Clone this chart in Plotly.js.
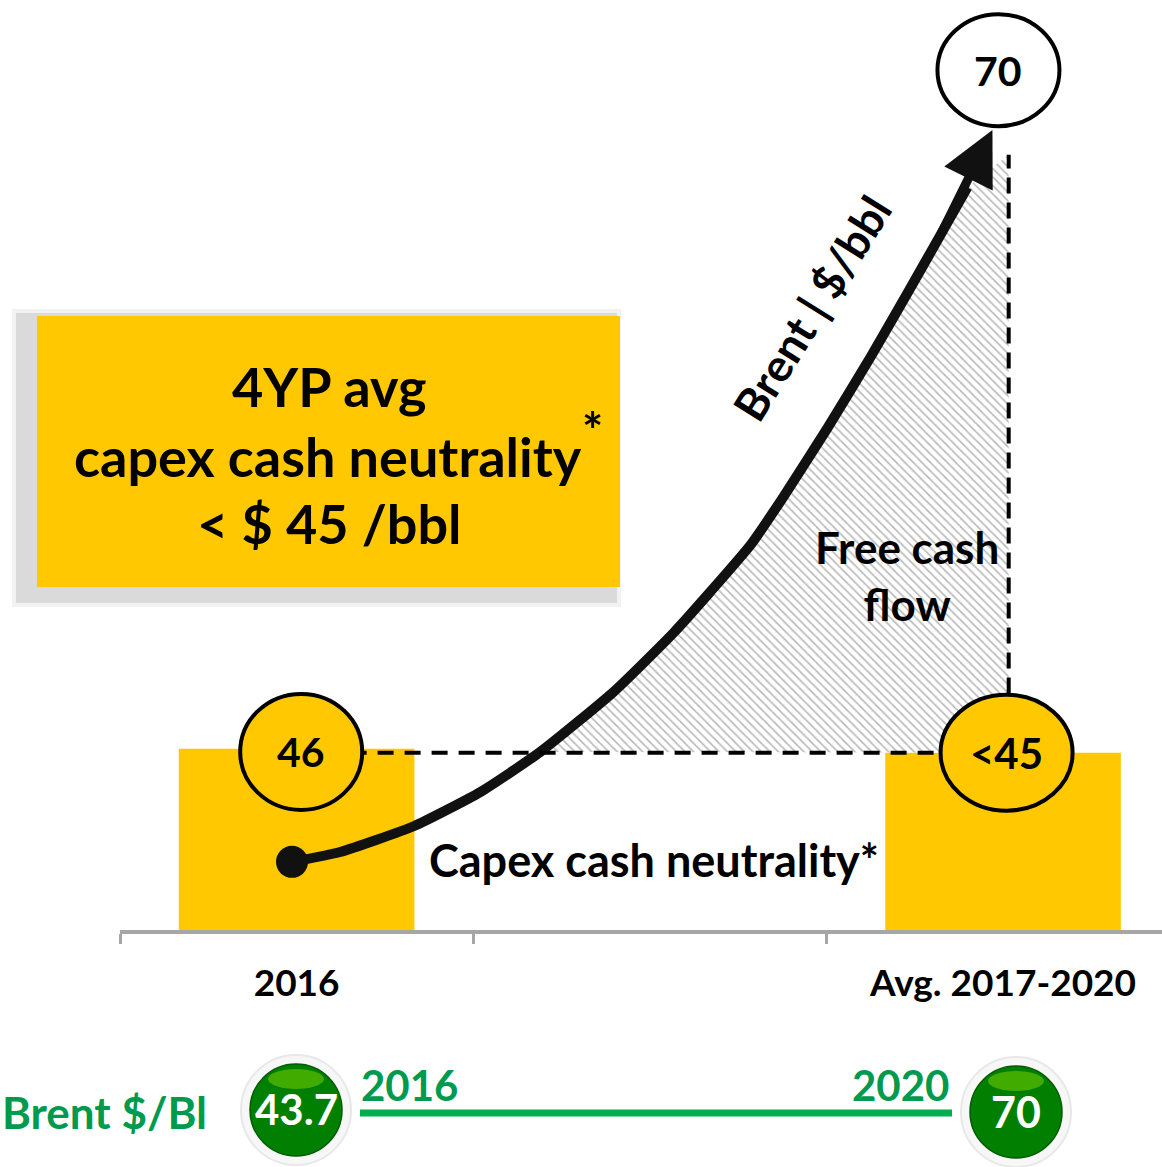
<!DOCTYPE html>
<html>
<head>
<meta charset="utf-8">
<script src="https://cdn.plot.ly/plotly-3.0.1.min.js"></script>
<style>html,body{margin:0;padding:0;background:#fff;}#chart{width:1162px;height:1167px;}</style>
</head>
<body>
<div id="chart"></div>
<script>
// ---------- DATA ----------
const categories = ['2016', ' ', 'Avg. 2017-2020'];
const capexNeutrality = [46, null, 45];
const capexLabels = ['46', '', '<45'];
const brentTargetLabel = '70';
const brentYears = ['2016', '2020'];
const brentPrices = [43.7, 70];
// illustrative Brent path (chart units on the overlaid numeric axis)
const brentPathX = [-0.013, 0.123, 0.333, 0.520, 0.690, 0.897, 1.067, 1.171, 1.285, 1.378, 1.503, 1.625, 1.730, 1.823, 1.899];
const brentPathY = [17.3, 19.8, 26.4, 35.0, 45.2, 60.4, 75.4, 85.8, 97.7, 109.9, 127.4, 145.4, 161.7, 176.4, 188.5];
const brentTip = [1.970, 203.0];
const fcfRight = 2.016;
const fcfTop = 196.7;

// ---------- helpers (layout positions in pixels -> paper) ----------
const ML = 120, PW = 1042, PH = 930;
const px = v => (v - ML) / PW;
const py = v => (PH - v) / PH;
const FONT = 'Lato, "Open Sans", sans-serif';

// free cash flow hatched area: curve above capex line, closed along right dashed line
const fcfX = [], fcfY = [];
for (let i = 0; i < brentPathX.length; i++) {
  if (brentPathY[i] >= capexNeutrality[2]) { fcfX.push(brentPathX[i]); fcfY.push(brentPathY[i]); }
}
fcfX.push(fcfRight, fcfRight); fcfY.push(fcfTop, capexNeutrality[2]);

const traces = [
  {
    type: 'bar', x: categories, y: capexNeutrality, width: 0.667,
    marker: {color: '#FFC800'}, hoverinfo: 'skip', xaxis: 'x', yaxis: 'y'
  },
  {
    type: 'scatter', mode: 'lines', x: fcfX, y: fcfY, xaxis: 'x2', yaxis: 'y',
    fill: 'toself', fillcolor: 'rgba(255,255,255,0)',
    fillpattern: {shape: '\\', fgcolor: '#b4b4b4', bgcolor: '#ffffff', size: 6, solidity: 0.25},
    line: {width: 0}, hoverinfo: 'skip'
  },
  {
    type: 'scatter', mode: 'lines', x: brentPathX, y: brentPathY, xaxis: 'x2', yaxis: 'y',
    line: {color: '#111111', width: 10, shape: 'spline', smoothing: 0.5}, hoverinfo: 'skip'
  },
  {
    type: 'scatter', mode: 'markers', x: [brentPathX[0]], y: [brentPathY[0]], xaxis: 'x2', yaxis: 'y',
    marker: {color: '#111111', size: 32}, hoverinfo: 'skip'
  }
];

const shapes = [
  // box shadow
  {type: 'rect', xref: 'paper', yref: 'paper', x0: px(12), x1: px(621), y0: py(309), y1: py(607), fillcolor: '#f2f2f2', line: {width: 0}, layer: 'above'},
  {type: 'rect', xref: 'paper', yref: 'paper', x0: px(16), x1: px(617), y0: py(313), y1: py(603), fillcolor: '#dadada', line: {width: 0}, layer: 'above'},
  {type: 'rect', xref: 'paper', yref: 'paper', x0: px(37), x1: px(620), y0: py(316), y1: py(587), fillcolor: '#FFC800', line: {width: 0}, layer: 'above'},
  // dashed lines
  {type: 'line', xref: 'x2', yref: 'y', x0: 0, x1: 2, y0: capexNeutrality[2], y1: capexNeutrality[2], line: {color: '#000', width: 4, dash: '16px,11px'}, layer: 'above'},
  {type: 'line', xref: 'x2', yref: 'y', x0: fcfRight, x1: fcfRight, y0: 60, y1: fcfTop, line: {color: '#000', width: 4, dash: '16px,9px'}, layer: 'above'},
  // value circles
  {type: 'circle', xref: 'x2', yref: 'y', xsizemode: 'pixel', ysizemode: 'pixel', xanchor: 0.013, yanchor: 45.2, x0: -61, x1: 61, y0: -58, y1: 58, fillcolor: '#FFC800', line: {color: '#000', width: 4}, layer: 'above'},
  {type: 'circle', xref: 'x2', yref: 'y', xsizemode: 'pixel', ysizemode: 'pixel', xanchor: 2.01, yanchor: 45.0, x0: -66, x1: 66, y0: -58, y1: 58, fillcolor: '#FFC800', line: {color: '#000', width: 4}, layer: 'above'},
  {type: 'circle', xref: 'x2', yref: 'y', xsizemode: 'pixel', ysizemode: 'pixel', xanchor: 1.987, yanchor: 218.2, x0: -61, x1: 61, y0: -56, y1: 56, fillcolor: '#ffffff', line: {color: '#000', width: 4}, layer: 'above'},
  // bottom Brent timeline
  {type: 'line', xref: 'paper', yref: 'paper', x0: px(360), x1: px(952), y0: py(1113), y1: py(1113), line: {color: '#00B050', width: 7}, layer: 'above'}
];

// green balls
function ball(cx, cy) {
  shapes.push({type: 'circle', xref: 'paper', yref: 'paper', xsizemode: 'pixel', ysizemode: 'pixel', xanchor: px(cx), yanchor: py(cy), x0: -55, x1: 55, y0: -55, y1: 55, fillcolor: '#f7f7f7', line: {color: '#e8e8e8', width: 2}, layer: 'above'});
  shapes.push({type: 'circle', xref: 'paper', yref: 'paper', xsizemode: 'pixel', ysizemode: 'pixel', xanchor: px(cx), yanchor: py(cy), x0: -46, x1: 46, y0: -46, y1: 46, fillcolor: '#007F00', line: {color: '#005c00', width: 1.5}, layer: 'above'});
  shapes.push({type: 'circle', xref: 'paper', yref: 'paper', xsizemode: 'pixel', ysizemode: 'pixel', xanchor: px(cx), yanchor: py(cy - 31), x0: -28, x1: 28, y0: -10, y1: 10, fillcolor: '#6cc800', opacity: 0.6, line: {width: 0}, layer: 'above'});
}
ball(296, 1110);
ball(1016, 1112);

const txt = (t, x, y, size, color, extra) => Object.assign({
  text: '<b>' + t + '</b>', xref: 'paper', yref: 'paper', x: px(x), y: py(y),
  xanchor: 'center', yanchor: 'middle', showarrow: false,
  font: {family: FONT, size: size, color: color || '#000'}
}, extra || {});

const annotations = [
  // arrow head of Brent path
  {xref: 'x2', yref: 'y', axref: 'x2', ayref: 'y', x: brentTip[0], y: brentTip[1],
   ax: brentPathX[brentPathX.length - 2], ay: brentPathY[brentPathY.length - 2], text: '', showarrow: true,
   arrowhead: 2, arrowsize: 1.2, arrowwidth: 9, arrowcolor: '#111111', standoff: 0},
  // yellow box text
  txt('4YP avg', 329, 386, 54),
  txt('capex cash neutrality', 328, 456, 54),
  txt('*', 592, 430, 50),
  txt('&lt; $ 45 /bbl', 329, 523, 54),
  // values in circles
  {text: '<b>' + capexLabels[0] + '</b>', xref: 'x2', yref: 'y', x: 0.013, y: 45.2, showarrow: false, font: {family: FONT, size: 41, color: '#000'}},
  {text: '<b>' + capexLabels[2].replace('<', '&lt;') + '</b>', xref: 'x2', yref: 'y', x: 2.01, y: 45.0, showarrow: false, font: {family: FONT, size: 42, color: '#000'}},
  {text: '<b>' + brentTargetLabel + '</b>', xref: 'x2', yref: 'y', x: 1.987, y: 218.2, showarrow: false, font: {family: FONT, size: 41, color: '#000'}},
  // chart texts
  txt('Brent | $/bbl', 812, 308, 45, '#000', {textangle: -58}),
  txt('Free cash<br>flow', 907, 575, 44, '#000'),
  txt('Capex cash neutrality*', 654, 860, 45, '#000'),
  // bottom Brent row
  txt('Brent $/Bl', 104, 1112, 44, '#009A4E'),
  txt(brentYears[0], 409, 1085, 42, '#009A4E'),
  txt(brentYears[1], 900, 1085, 42, '#009A4E'),
  txt(String(brentPrices[0]), 296, 1109, 42, '#ffffff'),
  txt(String(brentPrices[1]), 1016, 1111, 43, '#ffffff')
];

const layout = {
  width: 1162, height: 1167,
  margin: {l: ML, r: 0, t: 0, b: 237},
  paper_bgcolor: '#ffffff', plot_bgcolor: '#ffffff',
  showlegend: false,
  xaxis: {
    type: 'category', categoryorder: 'array', categoryarray: categories,
    range: [-0.5, 2.45], tickson: 'boundaries', ticks: 'outside', ticklen: 10, tickwidth: 3,
    tickcolor: '#a6a6a6', showline: true, linecolor: '#a6a6a6', linewidth: 4,
    showgrid: false, zeroline: false, fixedrange: true,
    ticklabelstandoff: 18,
    tickfont: {family: FONT, size: 37, color: '#000', weight: 'bold'}
  },
  xaxis2: {
    overlaying: 'x', range: [-0.5, 2.45], visible: false, showgrid: false, zeroline: false, fixedrange: true
  },
  yaxis: {range: [0, 236], visible: false, showgrid: false, zeroline: false, fixedrange: true},
  shapes: shapes,
  annotations: annotations
};

Plotly.newPlot('chart', traces, layout, {displayModeBar: false, staticPlot: true});
</script>
</body>
</html>
